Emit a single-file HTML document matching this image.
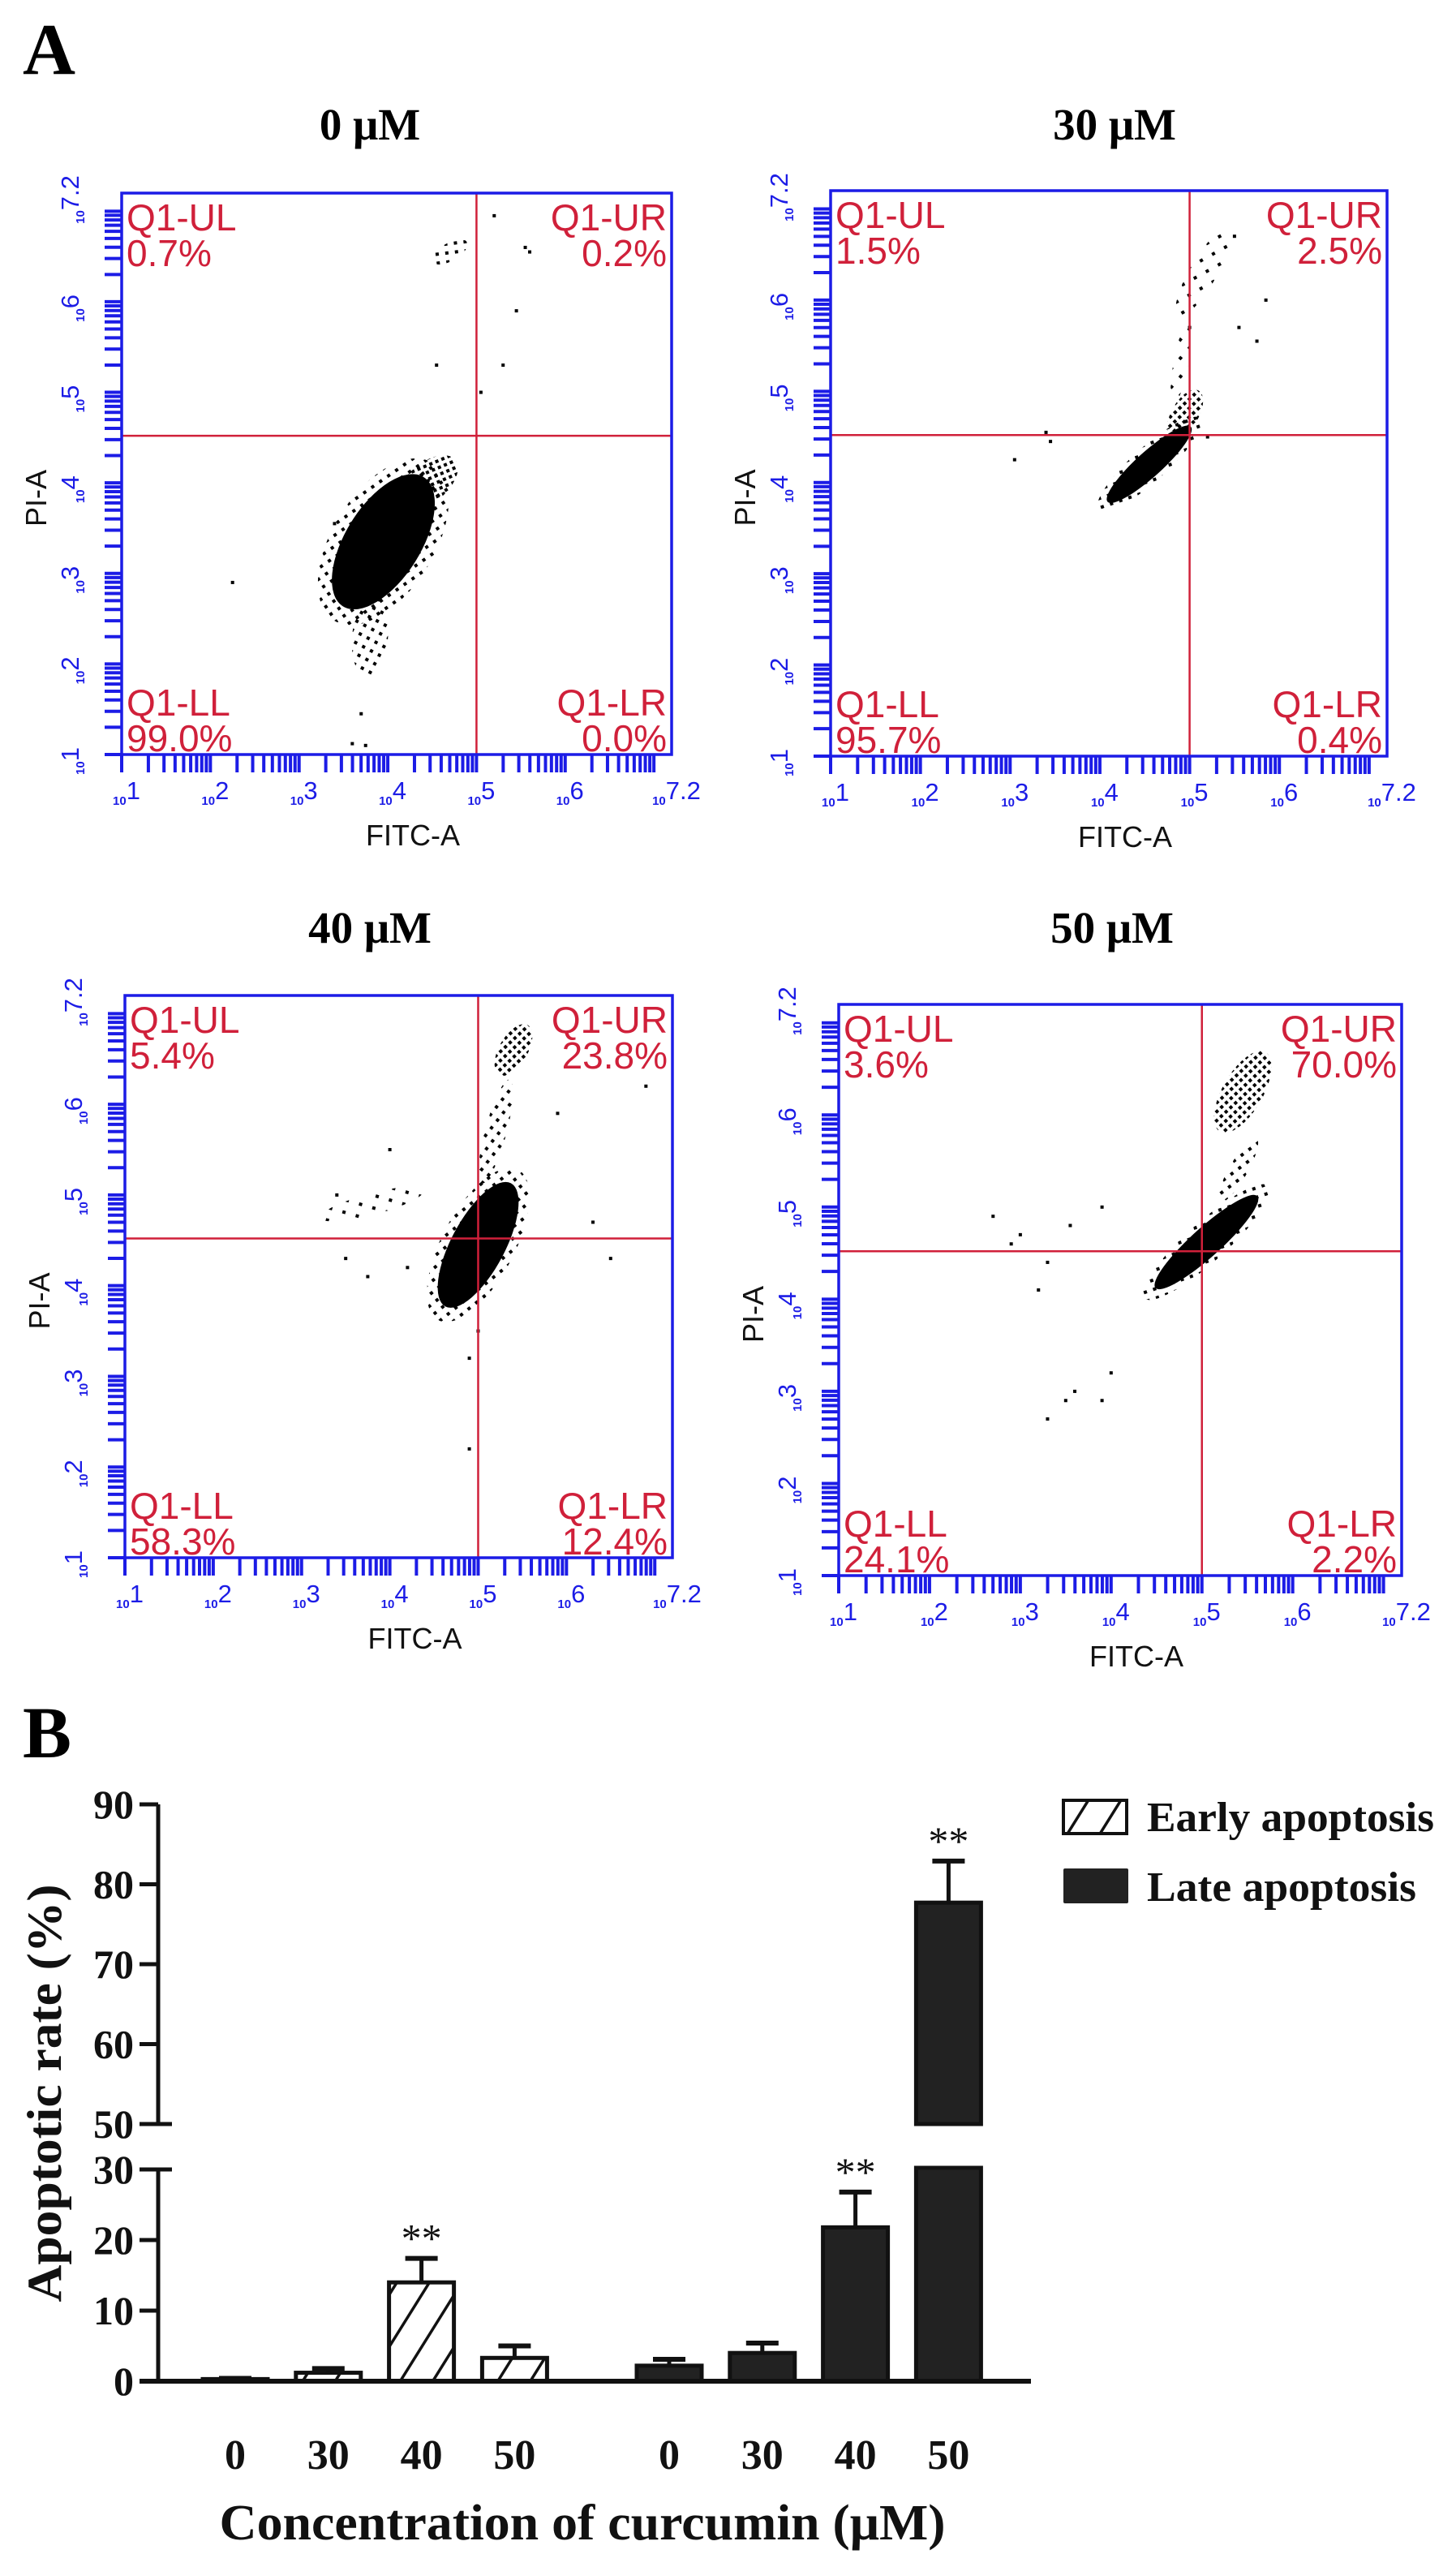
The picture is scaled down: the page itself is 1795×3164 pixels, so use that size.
<!DOCTYPE html>
<html><head><meta charset="utf-8"><style>
html,body{margin:0;padding:0;background:#fff;}
svg{display:block;}
</style></head><body>
<svg id="fig" xmlns="http://www.w3.org/2000/svg" width="1795" height="3164" viewBox="0 0 1795 3164">
<defs>
<pattern id="hatch" patternUnits="userSpaceOnUse" width="34" height="34" patternTransform="rotate(32)">
<rect width="34" height="34" fill="#fff"/>
<line x1="0" y1="0" x2="0" y2="34" stroke="#111" stroke-width="7"/>
</pattern>
<pattern id="dots1" patternUnits="userSpaceOnUse" width="8" height="8" patternTransform="rotate(17)">
<rect x="1" y="1" width="4" height="4" fill="#000"/>
</pattern>
<pattern id="dots2" patternUnits="userSpaceOnUse" width="12" height="11" patternTransform="rotate(23)">
<rect x="2" y="2" width="4" height="4" fill="#000"/>
</pattern>
<pattern id="dots3" patternUnits="userSpaceOnUse" width="17" height="15" patternTransform="rotate(31)">
<rect x="3" y="3" width="4" height="4" fill="#000"/>
</pattern>
</defs>
<text x="28" y="91" font-family="Liberation Serif, serif" font-weight="bold" font-size="90" fill="#000">A</text>
<text x="28" y="2166" font-family="Liberation Serif, serif" font-weight="bold" font-size="90" fill="#000">B</text>
<g id="flow"></g>
<g id="bars"></g>
</svg>
<script>
// ---------- Flow cytometry data ----------
const panelTitles = ['0 μM','30 μM','40 μM','50 μM'];
const quadLabels = ['Q1-UL','Q1-UR','Q1-LL','Q1-LR'];
const pct0 = [0.7, 0.2, 99.0, 0.0];
const pct30 = [1.5, 2.5, 95.7, 0.4];
const pct40 = [5.4, 23.8, 58.3, 12.4];
const pct50 = [3.6, 70.0, 24.1, 2.2];
const gateX = 5.0;
const gateY = 4.52;
const xTickExps = ['1','2','3','4','5','6','7.2'];
// blobs: [log x, log y, semi-axis a (decades), semi-axis b, angle deg, density]
const blobs0 = [[3.95,3.35,0.85,0.42,58,1],[3.8,2.3,0.45,0.2,85,0.35],[4.45,4.0,0.4,0.22,40,0.5],[4.7,6.55,0.22,0.1,30,0.35]];
const blobs30 = [[4.55,4.2,0.62,0.14,42,1],[4.95,4.75,0.3,0.15,60,0.5],[5.15,6.3,0.55,0.15,60,0.2],[4.9,5.3,0.45,0.08,80,0.25]];
const blobs40 = [[5.0,4.45,0.78,0.3,62,1],[5.4,6.6,0.32,0.16,60,0.5],[5.2,5.7,0.6,0.12,75,0.3],[3.8,4.9,0.6,0.12,15,0.2]];
const blobs50 = [[5.05,4.62,0.75,0.16,42,1],[5.45,6.25,0.5,0.22,60,0.55],[5.4,5.4,0.4,0.1,60,0.3]];
const out0 = [[2.25,2.9],[3.7,1.45],[3.6,1.12],[3.75,1.1],[5.2,6.95],[5.55,6.6],[5.6,6.55],[5.45,5.9],[5.3,5.3],[5.05,5.0],[3.4,3.55],[4.55,5.3]];
const out30 = [[3.05,4.25],[3.4,4.55],[3.45,4.45],[5.75,5.55],[5.85,6.0],[5.55,5.7],[5.2,4.5],[5.0,5.7],[5.5,6.7]];
const out40 = [[3.4,5.0],[3.5,4.3],[3.75,4.1],[4.0,5.5],[4.2,4.2],[4.9,3.2],[4.9,2.2],[5.0,3.5],[6.3,4.7],[6.5,4.3],[6.9,6.2],[5.9,5.9]];
const out50 = [[2.7,4.9],[2.9,4.6],[3.0,4.7],[3.3,4.4],[3.55,4.8],[3.9,5.0],[3.6,3.0],[3.9,2.9],[4.0,3.2],[3.3,2.7],[3.5,2.9],[3.2,4.1]];
// ---------- Bar chart data ----------
const concentrations = ['0','30','40','50'];
const earlyMean = [0.3, 1.2, 14.0, 3.3];
const earlyErr = [0.1, 0.6, 3.4, 1.7];
const lateMean = [2.2, 4.0, 21.8, 77.7];
const lateErr = [0.9, 1.4, 5.0, 5.2];
const earlySig = ['', '', '**', ''];
const lateSig = ['', '', '**', '**'];
const yTicksLow = [0, 10, 20, 30];
const yTicksHigh = [50, 60, 70, 80, 90];

const NS = 'http://www.w3.org/2000/svg';
function mk(tag, attrs, parent, text){
  const e = document.createElementNS(NS, tag);
  for (const k in attrs) e.setAttribute(k, attrs[k]);
  if (text !== undefined) e.textContent = text;
  parent.appendChild(e);
  return e;
}
const BLUE = '#1c1ce6', RED = '#d0203a';
const layouts = [
  {L:150,R:828,T:238,B:930,tx:456,ty:172},
  {L:1024,R:1710,T:235,B:932,tx:1374,ty:172},
  {L:154,R:829,T:1227,B:1920,tx:456,ty:1162},
  {L:1034,R:1728,T:1238,B:1942,tx:1371,ty:1162}
];
const pcts = [pct0, pct30, pct40, pct50];
const blobSets = [blobs0, blobs30, blobs40, blobs50];
const outSets = [out0, out30, out40, out50];
const flow = document.getElementById('flow');
function densityFill(d){
  if (d >= 0.9) return '#000';
  if (d > 0.45) return 'url(#dots1)';
  if (d > 0.28) return 'url(#dots2)';
  return 'url(#dots3)';
}

layouts.forEach((p, pi) => {
  const g = mk('g', {}, flow);
  
  
  const sx = v => p.L + (v - 1) / 6.2 * (p.R - p.L);
  const sy = v => p.B - (v - 1) / 6.2 * (p.B - p.T);
  const t = mk('text', {x:p.tx, y:p.ty, 'text-anchor':'middle', 'font-family':'Liberation Serif, serif', 'font-weight':'bold', 'font-size':'55', fill:'#000'}, g, panelTitles[pi]);
  
  
  const pxd = ((p.R - p.L) + (p.B - p.T)) / 12.4;
  blobSets[pi].forEach(b => {
    const cx = sx(b[0]), cy = sy(b[1]);
    const rot = 'rotate(' + (-b[4]) + ' ' + cx + ' ' + cy + ')';
    if (b[5] >= 0.9) {
      const h = mk('ellipse', {cx:cx, cy:cy, rx:b[2]*pxd*1.22, ry:b[3]*pxd*1.35, transform:rot, fill:'url(#dots2)'}, g);
      
      
    }
    const e = mk('ellipse', {cx:cx, cy:cy, rx:b[2]*pxd, ry:b[3]*pxd, transform:rot, fill:densityFill(b[5])}, g);
    
    
  });
  outSets[pi].forEach(o => {
    const r = mk('rect', {x:sx(o[0]) - 2, y:sy(o[1]) - 2, width:4, height:4, fill:'#000'}, g);
    
    
  });
  const vl = mk('line', {x1:sx(gateX), x2:sx(gateX), y1:p.T, y2:p.B, stroke:RED, 'stroke-width':2.5}, g);
  
  
  const hl = mk('line', {x1:p.L, x2:p.R, y1:sy(gateY), y2:sy(gateY), stroke:RED, 'stroke-width':2.5}, g);
  
  
  const bx = mk('rect', {x:p.L, y:p.T, width:p.R - p.L, height:p.B - p.T, fill:'none', stroke:BLUE, 'stroke-width':3.5}, g);
  
  
  for (let d = 1; d <= 7; d++) {
    for (let k = 1; k <= 9; k++) {
      const v = d + Math.log10(k);
      if (v > 7.2) break;
      const tx = mk('line', {x1:sx(v), x2:sx(v), y1:p.B, y2:p.B + 22, stroke:BLUE, 'stroke-width':4}, g);
      
      
      const ty = mk('line', {x1:p.L - 21, x2:p.L, y1:sy(v), y2:sy(v), stroke:BLUE, 'stroke-width':4}, g);
      
      
    }
  }
  xTickExps.forEach(ex => {
    const v = parseFloat(ex);
    const lx = mk('text', {x:sx(v) + 6, y:p.B + 62, 'text-anchor':'middle', 'font-family':'Liberation Sans, sans-serif', 'font-size':'15', 'font-weight':'bold', fill:BLUE}, g);
    
    
    mk('tspan', {}, lx, '10');
    mk('tspan', {dy:'-7', 'font-size':'31', 'font-weight':'normal'}, lx, ex);
    const ly = mk('text', {x:0, y:0, transform:'translate(' + (p.L - 46) + ',' + (sy(v) + 8) + ') rotate(-90)', 'text-anchor':'middle', 'font-family':'Liberation Sans, sans-serif', 'font-size':'15', 'font-weight':'bold', fill:BLUE}, g);
    
    
    mk('tspan', {}, ly, '10');
    mk('tspan', {dy:'-7', 'font-size':'31', 'font-weight':'normal'}, ly, ex);
  });
  const xt = mk('text', {x:(p.L + p.R) / 2 + 20, y:p.B + 112, 'text-anchor':'middle', 'font-family':'Liberation Sans, sans-serif', 'font-size':'36', fill:'#111'}, g, 'FITC-A');
  
  
  const yt = mk('text', {x:0, y:0, transform:'translate(' + (p.L - 93) + ',' + ((p.T + p.B) / 2 + 30) + ') rotate(-90)', 'text-anchor':'middle', 'font-family':'Liberation Sans, sans-serif', 'font-size':'36', fill:'#111'}, g, 'PI-A');
  
  
  const qp = [
    {x:p.L + 6, y:p.T + 46},
    {x:p.R - 6, y:p.T + 46},
    {x:p.L + 6, y:p.B - 48},
    {x:p.R - 6, y:p.B - 48}
  ];
  quadLabels.forEach((q, qi) => {
    const anchor = (qi % 2 === 1) ? 'end' : 'start';
    const t1 = mk('text', {x:qp[qi].x, y:qp[qi].y, 'text-anchor':anchor, 'font-family':'Liberation Sans, sans-serif', 'font-size':'46', fill:RED}, g, q);
    
    
    const t2 = mk('text', {x:qp[qi].x, y:qp[qi].y + 44, 'text-anchor':anchor, 'font-family':'Liberation Sans, sans-serif', 'font-size':'46', fill:RED}, g, pcts[pi][qi].toFixed(1) + '%');
    
    
  });
});

// ---------- Bar chart ----------
const bars = document.getElementById('bars');
const AX = 195, Y0 = 2935, Y30 = 2674, Y50 = 2618, Y90 = 2224;
function yScale(v){
  if (v <= 30) return Y0 - v / 30 * (Y0 - Y30);
  if (v < 50) return Y30;
  return Y50 - (v - 50) / 40 * (Y50 - Y90);
}
const earlyX0 = 290, lateX0 = 825, stepX = 114.8, BW = 80;
const serif = 'Liberation Serif, serif';
const ax1 = mk('line', {x1:AX, x2:AX, y1:Y90, y2:Y50, stroke:'#111', 'stroke-width':5}, bars);


const ax2 = mk('line', {x1:AX, x2:AX, y1:Y30, y2:Y0, stroke:'#111', 'stroke-width':5}, bars);


yTicksLow.concat(yTicksHigh).forEach(v => {
  const y = yScale(v);
  const ext = (v === 30 || v === 50) ? 17 : 0;
  const tk = mk('line', {x1:AX - 23, x2:AX + ext, y1:y, y2:y, stroke:'#111', 'stroke-width':5}, bars);
  
  
  const tl = mk('text', {x:AX - 30, y:y + 17, 'text-anchor':'end', 'font-family':serif, 'font-weight':'bold', 'font-size':'50', fill:'#111'}, bars, String(v));
  
  
});
function drawBar(cx, mean, err, sig, late, label){
  const top = yScale(mean);
  const fill = late ? '#222' : 'url(#hatch)';
  if (mean > 50) {
    const r1 = mk('rect', {x:cx - BW/2, y:Y30 - 2, width:BW, height:Y0 - Y30 + 2, fill:fill, stroke:'#111', 'stroke-width':5}, bars);
    
    
    const r2 = mk('rect', {x:cx - BW/2, y:top, width:BW, height:Y50 - top, fill:fill, stroke:'#111', 'stroke-width':5}, bars);
    
    
  } else {
    const r = mk('rect', {x:cx - BW/2, y:top, width:BW, height:Math.max(Y0 - top, 2), fill:fill, stroke:'#111', 'stroke-width':5}, bars);
    
    
  }
  const et = yScale(mean + err);
  const e1 = mk('line', {x1:cx, x2:cx, y1:top, y2:et, stroke:'#111', 'stroke-width':5}, bars);
  
  
  const e2 = mk('line', {x1:cx - 20, x2:cx + 20, y1:et, y2:et, stroke:'#111', 'stroke-width':6}, bars);
  
  
  if (sig) {
    const s = mk('text', {x:cx, y:et - 8, 'text-anchor':'middle', 'font-family':serif, 'font-size':'50', fill:'#111'}, bars, sig);
    
    
  }
}
concentrations.forEach((c, i) => {
  drawBar(earlyX0 + i * stepX, earlyMean[i], earlyErr[i], earlySig[i], false, 'bar-early-' + c);
  drawBar(lateX0 + i * stepX, lateMean[i], lateErr[i], lateSig[i], true, 'bar-late-' + c);
  [earlyX0 + i * stepX, lateX0 + i * stepX].forEach(x => {
    const l = mk('text', {x:x, y:3043, 'text-anchor':'middle', 'font-family':serif, 'font-weight':'bold', 'font-size':'52', fill:'#111'}, bars, c);
    
    
  });
});
const xa = mk('line', {x1:AX - 23, x2:1271, y1:Y0, y2:Y0, stroke:'#111', 'stroke-width':6}, bars);


const xt = mk('text', {x:718, y:3130, 'text-anchor':'middle', 'font-family':serif, 'font-weight':'bold', 'font-size':'62', textLength:'895', lengthAdjust:'spacingAndGlyphs', fill:'#111'}, bars, 'Concentration of curcumin (μM)');


const yt = mk('text', {x:0, y:0, transform:'translate(75,2580) rotate(-90)', 'text-anchor':'middle', 'font-family':serif, 'font-weight':'bold', 'font-size':'60', textLength:'515', lengthAdjust:'spacingAndGlyphs', fill:'#111'}, bars, 'Apoptotic rate (%)');


const lg = mk('g', {}, bars);


const lb1 = mk('rect', {x:1311, y:2219, width:78, height:41, fill:'url(#hatch)', stroke:'#111', 'stroke-width':4}, lg);


const lt1 = mk('text', {x:1414, y:2257, 'font-family':serif, 'font-weight':'bold', 'font-size':'52', textLength:'354', lengthAdjust:'spacingAndGlyphs', fill:'#111'}, lg, 'Early apoptosis');


const lb2 = mk('rect', {x:1311, y:2303, width:80, height:43, fill:'#222', rx:2}, lg);


const lt2 = mk('text', {x:1414, y:2343, 'font-family':serif, 'font-weight':'bold', 'font-size':'52', textLength:'332', lengthAdjust:'spacingAndGlyphs', fill:'#111'}, lg, 'Late apoptosis');


</script>
</body></html>
